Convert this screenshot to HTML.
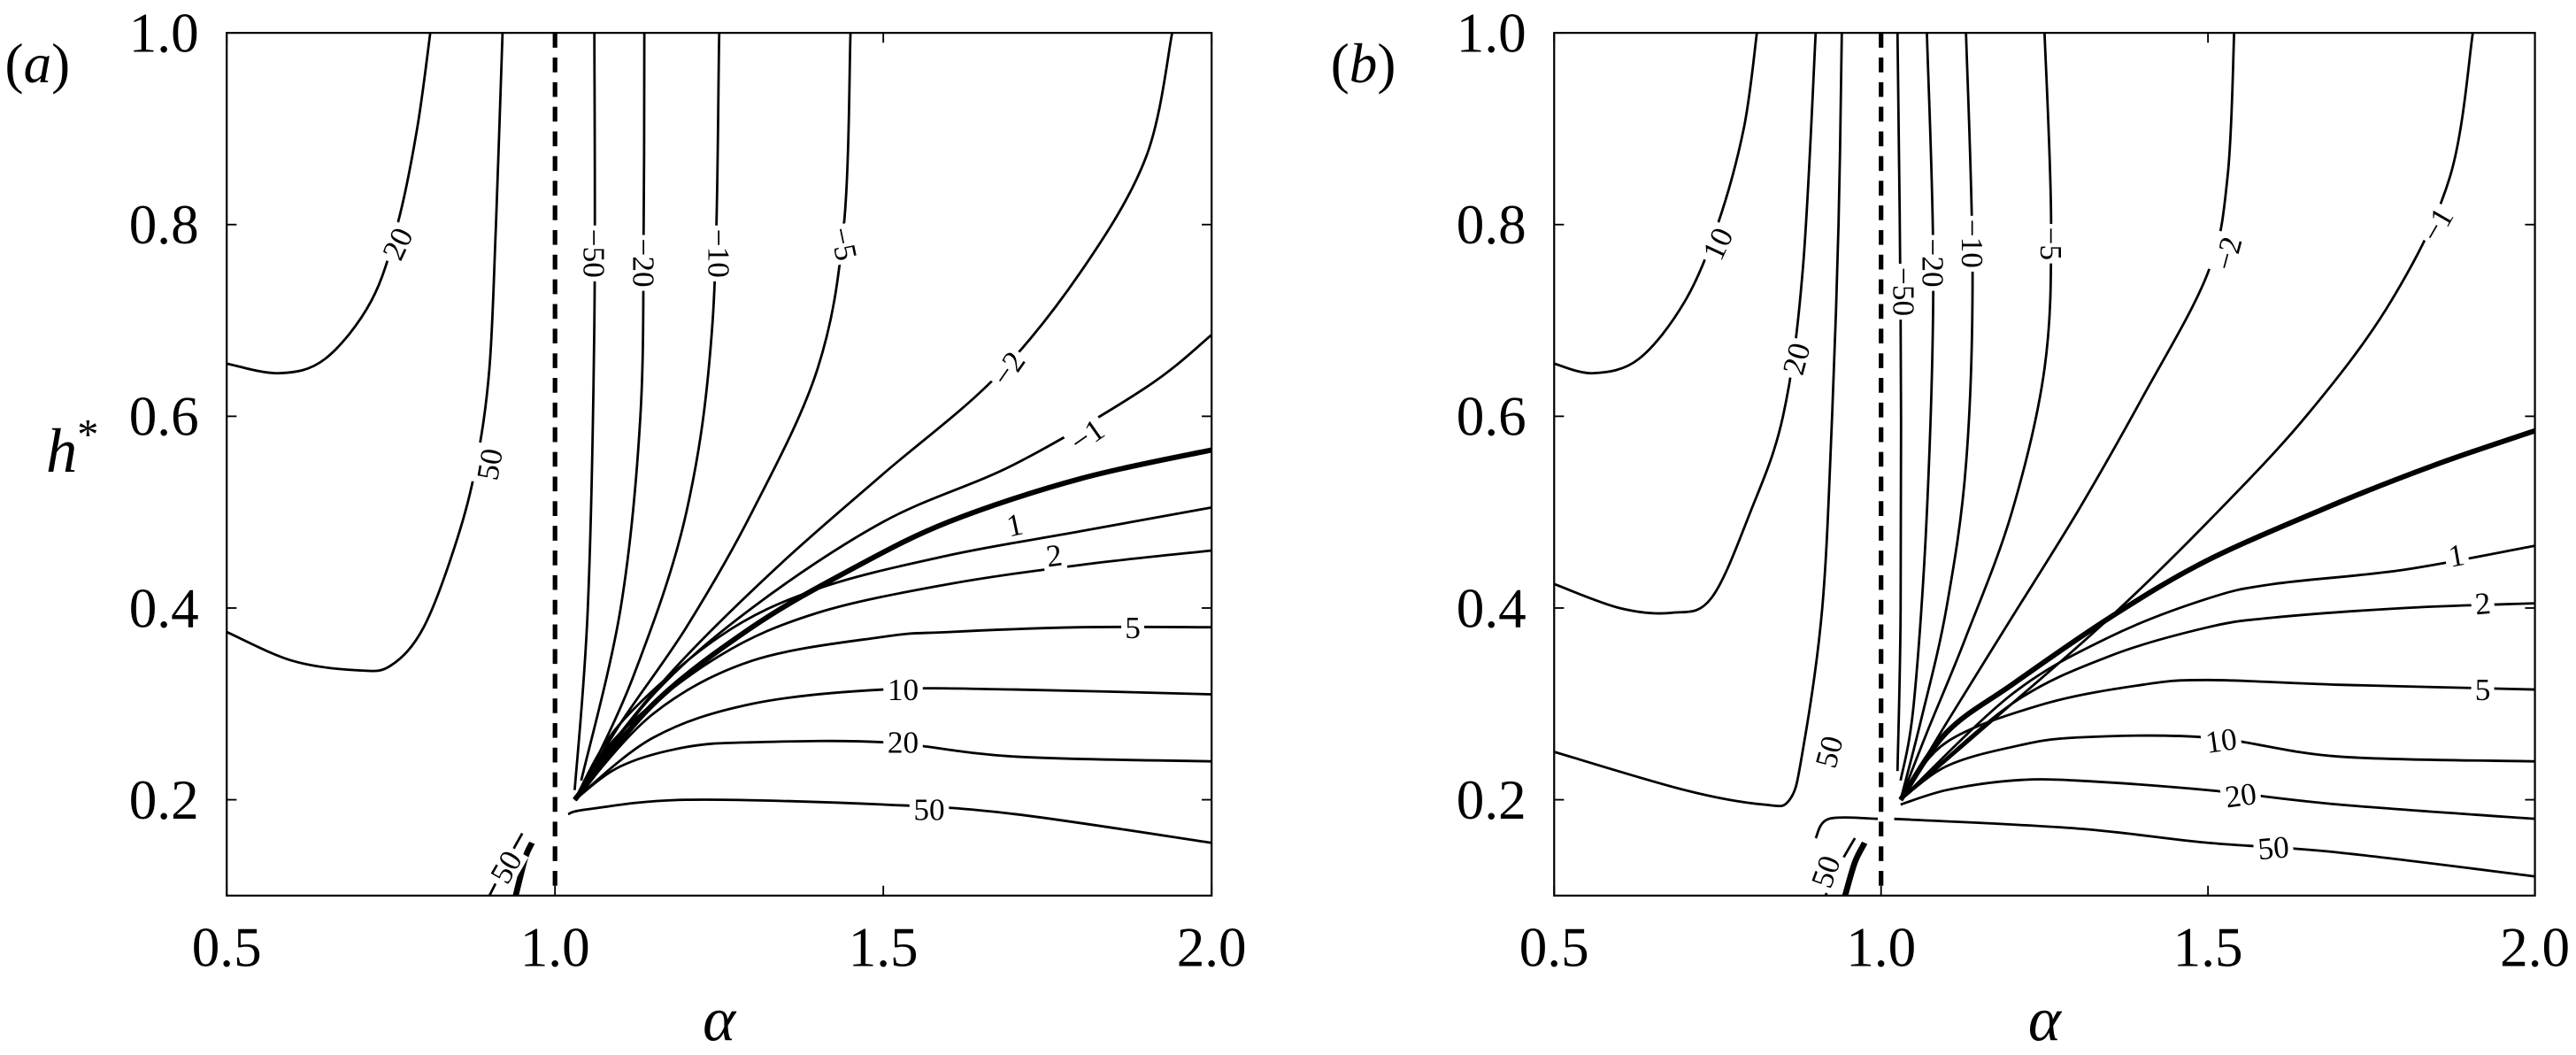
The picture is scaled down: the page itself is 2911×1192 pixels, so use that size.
<!DOCTYPE html>
<html><head><meta charset="utf-8"><style>
html,body{margin:0;padding:0;background:#fff;}
svg{display:block;}
svg text{font-family:"Liberation Serif","DejaVu Serif",serif;fill:#000;}
</style></head><body>
<svg id="fig" width="2911" height="1192" viewBox="0 0 1568 642" preserveAspectRatio="none" xmlns="http://www.w3.org/2000/svg" font-family="Liberation Serif, DejaVu Serif, serif">
<rect width="1568" height="642" fill="#fff"/>
</svg>
<script>
// ---- data (alpha, h*) ----
const xTicks = [0.5, 1.0, 1.5, 2.0];
const xTickLabels = ["0.5", "1.0", "1.5", "2.0"];
const yTicks = [0.2, 0.4, 0.6, 0.8, 1.0];
const yTickLabels = ["0.2", "0.4", "0.6", "0.8", "1.0"];

const aLevels = ["20L", "50L", "-50", "-20", "-10", "-5", "-2", "-1", "0", "1", "2", "5", "10", "20", "50", "50s", "thk"];
const aLines = [
 [[0.5,0.655],[0.58,0.645],[0.65,0.66],[0.72,0.72],[0.76,0.8],[0.79,0.9],[0.81,1.0]],
 [[0.5,0.375],[0.6,0.345],[0.7,0.335],[0.75,0.34],[0.8,0.38],[0.85,0.47],[0.88,0.55],[0.9,0.65],[0.91,0.8],[0.92,1.0]],
 [[1.03,0.21],[1.05,0.4],[1.06,0.7],[1.06,1.0]],
 [[1.04,0.22],[1.1,0.4],[1.13,0.6],[1.135,0.8],[1.136,1.0]],
 [[1.04,0.21],[1.12,0.33],[1.2,0.5],[1.24,0.7],[1.25,1.0]],
 [[1.03,0.2],[1.1,0.28],[1.2,0.38],[1.3,0.5],[1.4,0.65],[1.44,0.8],[1.45,1.0]],
 [[1.03,0.2],[1.1,0.27],[1.2,0.35],[1.35,0.45],[1.5,0.54],[1.67,0.64],[1.8,0.75],[1.9,0.87],[1.94,1.0]],
 [[1.03,0.2],[1.15,0.31],[1.3,0.4],[1.5,0.49],[1.7,0.55],[1.9,0.63],[2.0,0.685]],
 [[1.03,0.2],[1.15,0.3],[1.3,0.38],[1.45,0.44],[1.6,0.49],[1.8,0.535],[2.0,0.565]],
 [[1.03,0.2],[1.1,0.28],[1.25,0.37],[1.4,0.42],[1.6,0.455],[1.8,0.48],[2.0,0.505]],
 [[1.03,0.2],[1.1,0.27],[1.25,0.35],[1.4,0.395],[1.6,0.425],[1.8,0.445],[2.0,0.46]],
 [[1.03,0.2],[1.15,0.29],[1.3,0.345],[1.5,0.37],[1.6,0.375],[1.8,0.38],[2.0,0.38]],
 [[1.03,0.2],[1.15,0.265],[1.3,0.3],[1.5,0.315],[1.7,0.315],[2.0,0.31]],
 [[1.03,0.2],[1.1,0.235],[1.2,0.255],[1.3,0.26],[1.5,0.26],[1.7,0.245],[2.0,0.24]],
 [[1.02,0.185],[1.05,0.19],[1.2,0.2],[1.5,0.195],[1.7,0.185],[2.0,0.155]],
 [[0.9,0.1],[0.93,0.14],[0.95,0.165]],
 [[0.94,0.1],[0.955,0.14],[0.965,0.155]]
];
const aLabels = ["20","50","50","−50","−20","−10","−5","−2","−1","1","2","5","10","20","50"];
const aLabelPos = [[0.76,0.78],[0.9,0.55],[0.925,0.13],[1.06,0.77],[1.135,0.76],[1.25,0.77],[1.44,0.78],[1.69,0.65],[1.81,0.58],[1.7,0.487],[1.76,0.455],[1.88,0.38],[1.53,0.315],[1.53,0.26],[1.57,0.19]];
const aLabelRot = [-65,-80,-60,90,90,90,78,-55,-35,-12,-8,0,0,0,0];

const bLevels = ["10L", "20L", "50L", "50b", "-50", "-20", "-10", "-5", "-2", "-1", "0", "1", "2", "5", "10", "20", "50", "50s", "thk"];
const bLines = [
 [[0.5,0.655],[0.56,0.645],[0.63,0.66],[0.7,0.72],[0.75,0.8],[0.79,0.9],[0.81,1.0]],
 [[0.5,0.425],[0.6,0.4],[0.68,0.395],[0.74,0.41],[0.8,0.5],[0.85,0.6],[0.88,0.75],[0.9,1.0]],
 [[0.5,0.25],[0.7,0.21],[0.82,0.195],[0.86,0.2],[0.88,0.25],[0.91,0.4],[0.925,0.6],[0.935,0.8],[0.94,1.0]],
 [[0.9,0.16],[0.92,0.18],[0.995,0.18]],
 [[1.025,0.23],[1.03,0.4],[1.03,0.7],[1.025,1.0]],
 [[1.03,0.22],[1.05,0.3],[1.07,0.5],[1.08,0.75],[1.07,1.0]],
 [[1.03,0.2],[1.06,0.28],[1.1,0.4],[1.13,0.55],[1.14,0.75],[1.13,1.0]],
 [[1.03,0.2],[1.07,0.27],[1.13,0.37],[1.2,0.5],[1.25,0.65],[1.26,0.8],[1.25,1.0]],
 [[1.03,0.2],[1.1,0.28],[1.2,0.39],[1.3,0.5],[1.4,0.62],[1.5,0.75],[1.53,0.85],[1.54,1.0]],
 [[1.03,0.2],[1.2,0.3],[1.35,0.39],[1.5,0.49],[1.65,0.6],[1.78,0.72],[1.87,0.85],[1.905,1.0]],
 [[1.03,0.2],[1.1,0.27],[1.2,0.32],[1.35,0.39],[1.5,0.45],[1.7,0.51],[1.85,0.55],[2.0,0.585]],
 [[1.03,0.2],[1.2,0.31],[1.35,0.37],[1.5,0.41],[1.6,0.425],[1.8,0.44],[2.0,0.465]],
 [[1.03,0.2],[1.2,0.3],[1.35,0.35],[1.5,0.38],[1.6,0.39],[1.8,0.4],[2.0,0.405]],
 [[1.03,0.2],[1.1,0.26],[1.25,0.3],[1.4,0.32],[1.5,0.325],[1.7,0.32],[2.0,0.315]],
 [[1.03,0.2],[1.1,0.235],[1.2,0.255],[1.3,0.265],[1.5,0.265],[1.7,0.245],[2.0,0.24]],
 [[1.03,0.195],[1.1,0.21],[1.2,0.22],[1.3,0.22],[1.5,0.21],[1.7,0.195],[2.0,0.18]],
 [[1.02,0.18],[1.3,0.17],[1.5,0.155],[1.7,0.145],[2.0,0.12]],
 [[0.915,0.1],[0.935,0.13],[0.96,0.16]],
 [[0.945,0.1],[0.96,0.135],[0.975,0.155]]
];
const bLabels = ["10","20","50","50","−50","−20","−10","−5","−2","−1","1","2","5","10","20","50"];
const bLabelPos = [[0.75,0.78],[0.87,0.66],[0.92,0.25],[0.915,0.125],[1.035,0.73],[1.08,0.76],[1.14,0.78],[1.26,0.78],[1.53,0.77],[1.85,0.8],[1.88,0.455],[1.92,0.405],[1.92,0.315],[1.52,0.262],[1.55,0.205],[1.6,0.15]];
const bLabelRot = [-65,-75,-75,-70,90,90,90,90,-75,-60,-10,-5,0,-8,-8,-5];

const NS = "http://www.w3.org/2000/svg";
const svg = document.getElementById('fig');
const FONT = '"Liberation Serif", "DejaVu Serif", serif';
function mk(tag, attrs, parent) {
  const e = document.createElementNS(NS, tag);
  for (const k in attrs) e.setAttribute(k, attrs[k]);
  if (tag === 'text') e.setAttribute('font-family', FONT);
  (parent || svg).appendChild(e);
  return e;
}
function smooth(P) {
  if (P.length < 3) return P.map((p, j) => (j ? 'L' : 'M') + p[0].toFixed(1) + ' ' + p[1].toFixed(1)).join(' ');
  let d = 'M' + P[0][0].toFixed(1) + ' ' + P[0][1].toFixed(1);
  for (let i = 0; i < P.length - 1; i++) {
    const p0 = P[Math.max(0, i - 1)], p1 = P[i], p2 = P[i + 1], p3 = P[Math.min(P.length - 1, i + 2)];
    const c1 = [p1[0] + (p2[0] - p0[0]) / 6, p1[1] + (p2[1] - p0[1]) / 6];
    const c2 = [p2[0] - (p3[0] - p1[0]) / 6, p2[1] - (p3[1] - p1[1]) / 6];
    d += ' C' + c1[0].toFixed(1) + ' ' + c1[1].toFixed(1) + ' ' + c2[0].toFixed(1) + ' ' + c2[1].toFixed(1) + ' ' + p2[0].toFixed(1) + ' ' + p2[1].toFixed(1);
  }
  return d;
}

function panel(cfg) {
  const g = mk('g', {});
  
  
  const L = cfg.left, R = cfg.right, T = 20, B = 545;
  const sx = a => L + (a - 0.5) / 1.5 * (R - L);
  const sy = h => B - (h - 0.1) / 0.9 * (B - T);
  const clip = 'clip-' + cfg.name;
  const cp = mk('clipPath', {id: clip}, g);
  mk('rect', {x: L, y: T, width: R - L, height: B - T}, cp);
  const lines = mk('g', {'clip-path': 'url(#' + clip + ')'}, g);
  cfg.lines.forEach((pts, i) => {
    const lvl = cfg.levels[i];
    const d = smooth(pts.map(p => [sx(p[0]), sy(p[1])]));
    const w = (lvl === '0') ? 3.2 : (lvl === 'thk' ? 3.6 : 1.5);
    const p = mk('path', {d: d, fill: 'none', stroke: '#000', 'stroke-width': w, 'stroke-linejoin': 'round'}, lines);
    
    
  });
  const dl = mk('line', {x1: sx(1.0), x2: sx(1.0), y1: T, y2: B, stroke: '#000', 'stroke-width': 2.8, 'stroke-dasharray': '9 6'}, g);
  
  
  cfg.labels.forEach((t, i) => {
    const x = sx(cfg.labelPos[i][0]), y = sy(cfg.labelPos[i][1]);
    const lg = mk('g', {transform: 'translate(' + x.toFixed(1) + ',' + y.toFixed(1) + ') rotate(' + cfg.labelRot[i] + ')'}, g);
    
    
    const wdt = t.length * 10 + 4;
    mk('rect', {x: -wdt / 2, y: -9, width: wdt, height: 18, fill: '#fff'}, lg);
    const tx = mk('text', {x: 0, y: 6.5, 'font-size': 19, 'text-anchor': 'middle'}, lg);
    tx.textContent = t;
  });
  const fr = mk('rect', {x: L, y: T, width: R - L, height: B - T, fill: 'none', stroke: '#000', 'stroke-width': 1.2}, g);
  
  
  xTicks.forEach((v, i) => {
    const x = sx(v);
    mk('line', {x1: x, x2: x, y1: B, y2: B - 6, stroke: '#000', 'stroke-width': 1}, g);
    mk('line', {x1: x, x2: x, y1: T, y2: T + 6, stroke: '#000', 'stroke-width': 1}, g);
    const t = mk('text', {x: x, y: B + 43, 'font-size': 34, 'text-anchor': 'middle'}, g);
    
    
    t.textContent = xTickLabels[i];
  });
  yTicks.forEach((v, i) => {
    const y = sy(v);
    mk('line', {x1: L, x2: L + 6, y1: y, y2: y, stroke: '#000', 'stroke-width': 1}, g);
    mk('line', {x1: R, x2: R - 6, y1: y, y2: y, stroke: '#000', 'stroke-width': 1}, g);
    const t = mk('text', {x: L - 17, y: y + 11.5, 'font-size': 34, 'text-anchor': 'end'}, g);
    
    
    t.textContent = yTickLabels[i];
  });
  const xt = mk('text', {x: (L + R) / 2, y: 633, 'font-size': 38, 'font-style': 'italic', 'text-anchor': 'middle'}, g);
  
  
  xt.textContent = 'α';
  const pl = mk('text', {x: cfg.tagX, y: 50, 'font-size': 34}, g);
  
  
  pl.innerHTML = '(<tspan font-style="italic">' + cfg.tag + '</tspan>)';
}

panel({name: 'panel-a', left: 138, right: 737.5, levels: aLevels, lines: aLines, labels: aLabels, labelPos: aLabelPos, labelRot: aLabelRot, tag: 'a', tagX: 3});
panel({name: 'panel-b', left: 946, right: 1543, levels: bLevels, lines: bLines, labels: bLabels, labelPos: bLabelPos, labelRot: bLabelRot, tag: 'b', tagX: 810});

const yt = mk('text', {x: 28, y: 287, 'font-size': 38, 'font-style': 'italic'});


yt.innerHTML = 'h<tspan font-size="26" dy="-14" font-style="normal">*</tspan>';
</script>
</body></html>
